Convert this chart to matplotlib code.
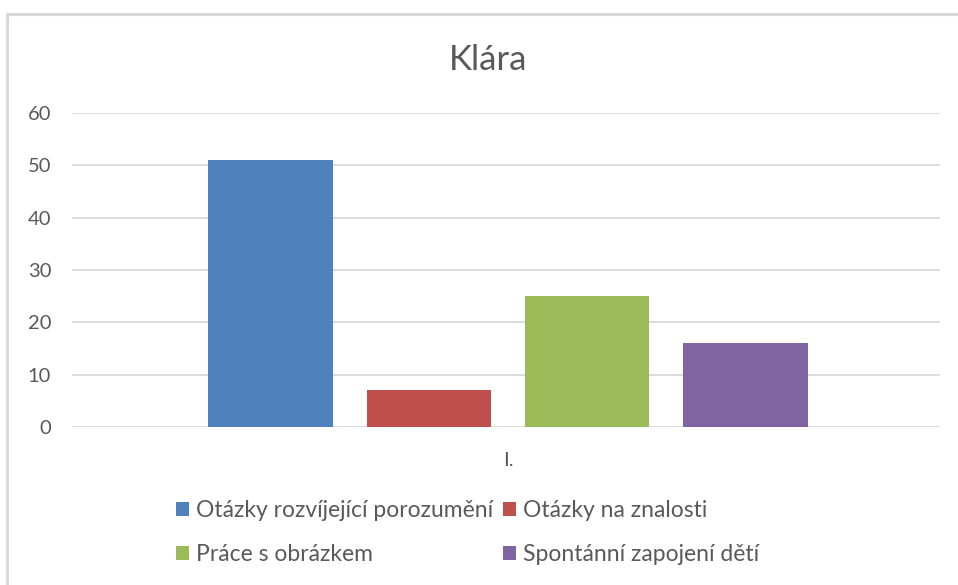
import matplotlib.pyplot as plt
from matplotlib.lines import Line2D
from matplotlib.patches import Patch

plt.rcParams['font.family'] = ['Lato', 'DejaVu Sans']

# Data
series = ["Otázky rozvíjející porozumění", "Otázky na znalosti",
          "Práce s obrázkem", "Spontánní zapojení dětí"]
values = [51, 7, 25, 16]
colors = ["#4F81BD", "#C0504D", "#9BBB59", "#8064A2"]
category = "I."
yticks = [0, 10, 20, 30, 40, 50, 60]

fig = plt.figure(figsize=(9.58, 5.85), dpi=100)
ax = fig.add_axes([0.0752, 0.270, 0.906, 0.537])

positions = range(len(values))
ax.bar(positions, values, width=0.785, color=colors, zorder=3)

ax.set_xlim(-1.254, 4.229)
ax.set_ylim(0, 60)
ax.set_yticks(yticks)
ax.set_xticks([1.5])
ax.set_xticklabels([category])
ax.yaxis.grid(True, color="#D9D9D9", linewidth=1.3, zorder=0)
for s in ax.spines.values():
    s.set_visible(False)
ax.tick_params(axis="both", length=0, labelsize=14.5, labelcolor="#595959")
ax.tick_params(axis="y", pad=15)
ax.tick_params(axis="x", pad=18)

# chart title
fig.text(0.509, 0.897, "Klára", ha="center", va="center", fontsize=25, color="#595959")

# legend in two rows, filled row by row
order = [0, 2, 1, 3]
handles = [Patch(facecolor=colors[i]) for i in order]
labels = [series[i] for i in order]
fig.legend(handles, labels, loc="center", bbox_to_anchor=(0.488, 0.089), ncol=2,
           frameon=False, fontsize=16.5, labelcolor="#595959",
           handlelength=0.55, handleheight=0.55, handletextpad=0.3,
           columnspacing=0.45, labelspacing=1.0)

# chart border on top and left
fig.add_artist(Line2D([0.0073, 0.0073], [0, 0.976], color="#D9D9D9", linewidth=2.2))
fig.add_artist(Line2D([0.0073, 1.0], [0.976, 0.976], color="#D9D9D9", linewidth=2.2))

fig.savefig("out.png", dpi=100, facecolor="white")
